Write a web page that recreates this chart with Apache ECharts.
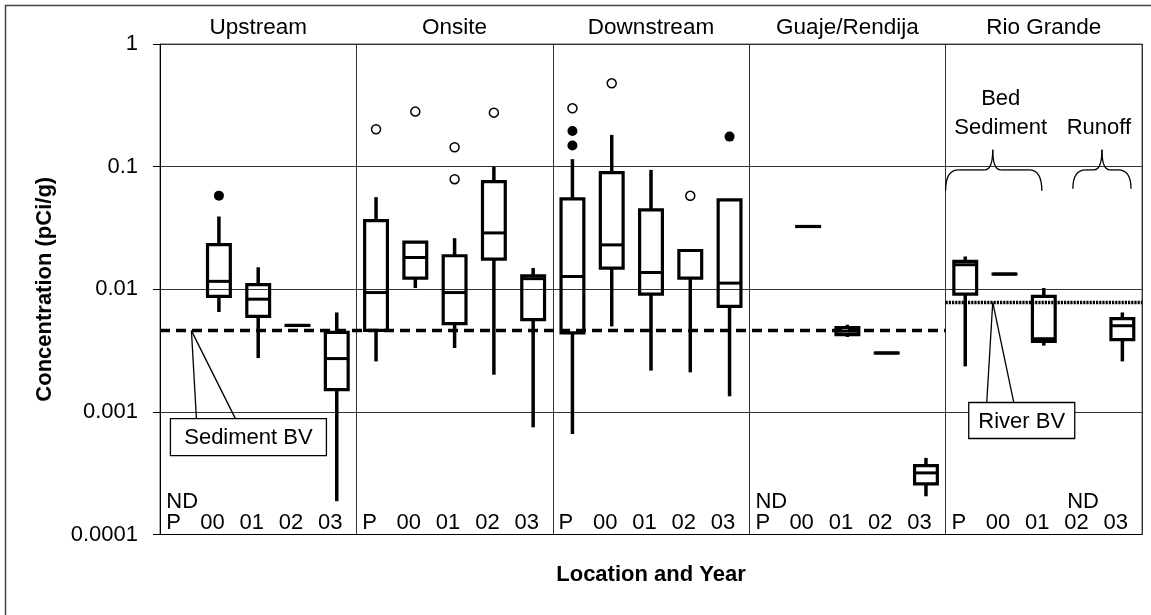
<!DOCTYPE html>
<html><head><meta charset="utf-8">
<script src="https://cdn.jsdelivr.net/npm/echarts@6/dist/echarts.min.js"></script>
<style>html,body{margin:0;padding:0;background:#fff}#c{width:1151px;height:615px}</style>
</head><body><div id="c"></div>
<script>
// ---------- data ----------
const locations = ['Upstream', 'Onsite', 'Downstream', 'Guaje/Rendija', 'Rio Grande'];
const years = ['P', '00', '01', '02', '03'];
const yTickLabels = ['0.0001', '0.001', '0.01', '0.1', '1'];
// box stats per year: [min, q1, median, q3, max]; null = no data
const upstreamBoxes = [
  null,
  [0.00652, 0.00874, 0.0116, 0.0231, 0.0392],
  [0.00275, 0.0060, 0.0083, 0.0109, 0.0151],
  [0.00507, 0.00507, 0.00507, 0.00507, 0.00507],
  [0.000187, 0.00152, 0.00272, 0.00445, 0.00647]
];
const onsiteBoxes = [
  [0.00258, 0.00462, 0.0094, 0.0363, 0.0564],
  [0.01023, 0.01234, 0.01816, 0.0242, 0.0242],
  [0.00332, 0.00524, 0.0094, 0.01875, 0.0261],
  [0.00201, 0.0176, 0.0288, 0.0755, 0.100],
  [0.000748, 0.00565, 0.0122, 0.01288, 0.0149]
];
const downstreamBoxes = [
  [0.00066, 0.0044, 0.0127, 0.0546, 0.115],
  [0.00498, 0.01487, 0.0230, 0.0895, 0.1815],
  [0.00217, 0.00914, 0.0137, 0.0444, 0.0941],
  [0.0021, 0.01234, 0.0207, 0.0207, 0.0210],
  [0.00134, 0.00724, 0.01122, 0.0536, 0.0536]
];
const guajeBoxes = [
  null,
  [0.0325, 0.0325, 0.0325, 0.0325, 0.0325],
  [0.00408, 0.00426, 0.00455, 0.00486, 0.00514],
  [0.00302, 0.00302, 0.00302, 0.00302, 0.00302],
  [0.000205, 0.000259, 0.000318, 0.000365, 0.000421]
];
const rioGrandeBoxes = [
  [0.00235, 0.00914, 0.01584, 0.01685, 0.0185],
  [0.0133, 0.0133, 0.0133, 0.0133, 0.0133],
  [0.00347, 0.00376, 0.00395, 0.00874, 0.01023],
  null,
  [0.00258, 0.00388, 0.00504, 0.00575, 0.00647]
];
// outliers: [location index, year index, value]
const openOutliers = [
  [1, 0, 0.2018], [1, 1, 0.281], [1, 2, 0.1439], [1, 2, 0.079], [1, 3, 0.2756],
  [2, 0, 0.299], [2, 1, 0.478], [2, 3, 0.0578]
];
const filledOutliers = [
  [0, 1, 0.058], [2, 0, 0.1955], [2, 0, 0.1485], [2, 4, 0.1757]
];
// not-detected cells: [location index, year index]
const ndCells = [[0, 0], [3, 0], [4, 3]];
const sedimentBV = 0.0046;
const riverBV = 0.0078;

// ---------- build ----------
const FONT = '"Liberation Sans", Arial, sans-serif';
const allBoxes = [upstreamBoxes, onsiteBoxes, downstreamBoxes, guajeBoxes, rioGrandeBoxes];
const nY = years.length;
const cats = [];
locations.forEach(l => years.forEach(y => cats.push(l + ' ' + y)));
const boxData = [];
allBoxes.forEach((arr, li) => arr.forEach((b, yi) => { if (b) boxData.push([li * nY + yi].concat(b)); }));
const toPt = o => [o[0] * nY + o[1], o[2]];
const isND = (li, yi) => ndCells.some(c => c[0] === li && c[1] === yi);
const nTot = locations.length * nY;

const chart = echarts.init(document.getElementById('c'));

function renderBox(params, api) {
  const x = api.value(0);
  const vals = [1, 2, 3, 4, 5].map(i => api.value(i));
  const p = vals.map(v => api.coord([x, v]));
  const band = api.size([1, 1], [x, vals[2]])[0];
  const w = band * 0.58;
  const cx = p[0][0];
  const ls = { stroke: '#000', lineWidth: 3.5, lineCap: 'butt' };
  const children = [];
  if (p[4][1] < p[3][1] - 0.5) children.push({ type: 'line', shape: { x1: cx, y1: p[3][1], x2: cx, y2: p[4][1] }, style: ls });
  if (p[0][1] > p[1][1] + 0.5) children.push({ type: 'line', shape: { x1: cx, y1: p[1][1], x2: cx, y2: p[0][1] }, style: ls });
  children.push({ type: 'rect', shape: { x: cx - w / 2, y: p[3][1], width: w, height: Math.max(p[1][1] - p[3][1], 0.01) },
    style: { fill: null, stroke: '#000', lineWidth: 3.2, lineJoin: 'miter' } });
  children.push({ type: 'line', shape: { x1: cx - w / 2, y1: p[2][1], x2: cx + w / 2, y2: p[2][1] }, style: { stroke: '#000', lineWidth: 3 } });
  return { type: 'group', children };
}

const tokBase = { fontSize: 22, fontFamily: FONT, color: '#000', lineHeight: 21 };

chart.setOption({
  animation: false,
  backgroundColor: '#fff',
  grid: { left: 160, right: 9, top: 44, bottom: 80.5, show: true, borderColor: '#555', borderWidth: 1, backgroundColor: 'transparent' },
  xAxis: [
    {
      type: 'category', data: cats, position: 'bottom', boundaryGap: true,
      axisLine: { lineStyle: { color: '#000', width: 1 } },
      axisTick: { show: false }, splitLine: { show: false },
      axisLabel: {
        inside: true, interval: 0, margin: 1,
        formatter: function (val, idx) {
          const li = Math.floor(idx / nY), yi = idx % nY, y = years[yi];
          if (isND(li, yi)) return yi === 0 ? '{ndl|ND}\n{pl|' + y + '}' : '{nd|ND}\n{t|' + y + '}';
          return '{t|' + y + '}';
        },
        rich: {
          t: Object.assign({}, tokBase, { padding: [0, 13, 0, 0] }),
          nd: Object.assign({}, tokBase, { align: 'center' }),
          ndl: Object.assign({}, tokBase, { align: 'left', padding: [0, 0, 0, 5] }),
          pl: Object.assign({}, tokBase, { align: 'left', padding: [0, 0, 0, 5] })
        }
      },
      name: 'Location and Year', nameLocation: 'middle', nameGap: 29,
      nameTextStyle: { fontSize: 22, fontWeight: 'bold', fontFamily: FONT, color: '#000' }
    },
    {
      type: 'value', min: 0, max: nTot, interval: nY, position: 'top',
      axisLine: { show: false }, axisTick: { show: false }, axisLabel: { show: false },
      splitLine: { show: true, lineStyle: { color: '#333', width: 1 } }
    },
    {
      type: 'category', data: locations, position: 'top', boundaryGap: true,
      axisLine: { show: false }, axisTick: { show: false }, splitLine: { show: false },
      axisLabel: { interval: 0, margin: 5, fontSize: 22.5, fontFamily: FONT, color: '#000' }
    }
  ],
  yAxis: {
    type: 'log', logBase: 10, min: 0.0001, max: 1,
    axisLine: { show: true, lineStyle: { color: '#000', width: 1 } },
    axisTick: { show: true, length: 7, lineStyle: { color: '#000' } },
    minorTick: { show: false },
    axisLabel: {
      margin: 22, fontSize: 22, fontFamily: FONT, color: '#000',
      formatter: v => yTickLabels[Math.round(Math.log10(v)) + 4]
    },
    splitLine: { show: true, lineStyle: { color: '#333', width: 1 } },
    name: 'Concentration (pCi/g)', nameLocation: 'middle', nameGap: 104,
    nameTextStyle: { fontSize: 22, fontWeight: 'bold', fontFamily: FONT, color: '#000' }
  },
  series: [
    {
      type: 'line', xAxisIndex: 1, yAxisIndex: 0, silent: true, symbol: 'none', z: 2,
      data: [[0, sedimentBV], [4 * nY, sedimentBV]],
      lineStyle: { color: '#000', width: 3.5, type: [10, 6] }
    },
    {
      type: 'line', xAxisIndex: 1, yAxisIndex: 0, silent: true, symbol: 'none', z: 2,
      data: [[4 * nY, riverBV], [nTot, riverBV]],
      lineStyle: { color: '#000', width: 3.5, type: [2.2, 1] }
    },
    {
      type: 'custom', xAxisIndex: 0, yAxisIndex: 0, z: 3, silent: true,
      renderItem: renderBox, encode: { x: 0, y: [1, 2, 3, 4, 5] }, data: boxData
    },
    {
      type: 'scatter', xAxisIndex: 0, yAxisIndex: 0, z: 4, silent: true,
      symbol: 'circle', symbolSize: 9,
      itemStyle: { color: '#fff', borderColor: '#000', borderWidth: 1.5, opacity: 1 },
      data: openOutliers.map(toPt)
    },
    {
      type: 'scatter', xAxisIndex: 0, yAxisIndex: 0, z: 4, silent: true,
      symbol: 'circle', symbolSize: 10,
      itemStyle: { color: '#000', opacity: 1 },
      data: filledOutliers.map(toPt)
    }
  ]
});

// ---------- annotations anchored to data coordinates ----------
const px = (x, y) => chart.convertToPixel({ xAxisIndex: 1, yAxisIndex: 0 }, [x, y]);
const txt = (s, x, y) => ({ type: 'text', z: 20, style: { text: s, x, y, align: 'center', verticalAlign: 'middle', font: '22px ' + FONT, fill: '#000' } });
const ln = (x1, y1, x2, y2, w) => ({ type: 'line', z: 20, shape: { x1, y1, x2, y2 }, style: { stroke: '#000', lineWidth: w || 1.3 } });
const qc = (x1, y1, cx, cy, x2, y2) => ({ type: 'bezierCurve', z: 20, shape: { x1, y1, cpx1: cx, cpy1: cy, x2, y2 }, style: { stroke: '#000', lineWidth: 1.3, fill: null } });

function callout(a, label, bx, by, bw, bh, l1, l2) {
  return [
    ln(a[0], a[1], a[0] + l1, a[1] + by),
    ln(a[0], a[1], a[0] + l2, a[1] + by),
    { type: 'rect', z: 20, shape: { x: a[0] + bx, y: a[1] + by, width: bw, height: bh }, style: { fill: '#fff', stroke: '#000', lineWidth: 1.3 } },
    txt(label, a[0] + bx + bw / 2, a[1] + by + bh / 2 + 1)
  ];
}
function brace(x0, x1, tip, yTipV, yMidV, yEndV) {
  const L = px(x0, yEndV), R = px(x1, yEndV), T = px(tip, yTipV), M = px(tip, yMidV);
  const ym = M[1], r = 13, s = 8;
  return [
    qc(L[0], L[1], L[0], ym, L[0] + r, ym),
    ln(L[0] + r, ym, T[0] - s, ym),
    qc(T[0] - s, ym, T[0], ym, T[0], T[1]),
    qc(T[0] + s, ym, T[0], ym, T[0], T[1]),
    ln(T[0] + s, ym, R[0] - r, ym),
    qc(R[0] - r, ym, R[0], ym, R[0], R[1])
  ];
}
const sedA = px(0.8, sedimentBV);
const rivA = px(21.2, riverBV);
const b1 = px(21.2, 0.137), b2 = px(23.98, 0.137);
let g = [];
g = g.concat(callout(sedA, 'Sediment BV', -21, 88, 156, 37, 5, 44));
g = g.concat(callout(rivA, 'River BV', -24, 100, 106, 36, -6, 21));
g = g.concat(brace(20.0, 22.45, 21.2, 0.137, 0.094, 0.0635));
g = g.concat(brace(23.24, 24.72, 23.98, 0.137, 0.094, 0.0660));
g.push(txt('Bed', b1[0] + 8, b1[1] - 51));
g.push(txt('Sediment', b1[0] + 8, b1[1] - 22));
g.push(txt('Runoff', b2[0] - 3, b2[1] - 22));
g.push({ type: 'rect', z: 30, silent: true, shape: { x: 5.5, y: 5.5, width: 1400, height: 900 }, style: { fill: null, stroke: '#444', lineWidth: 1.5 } });
chart.setOption({ graphic: g });
</script>
</body></html>
